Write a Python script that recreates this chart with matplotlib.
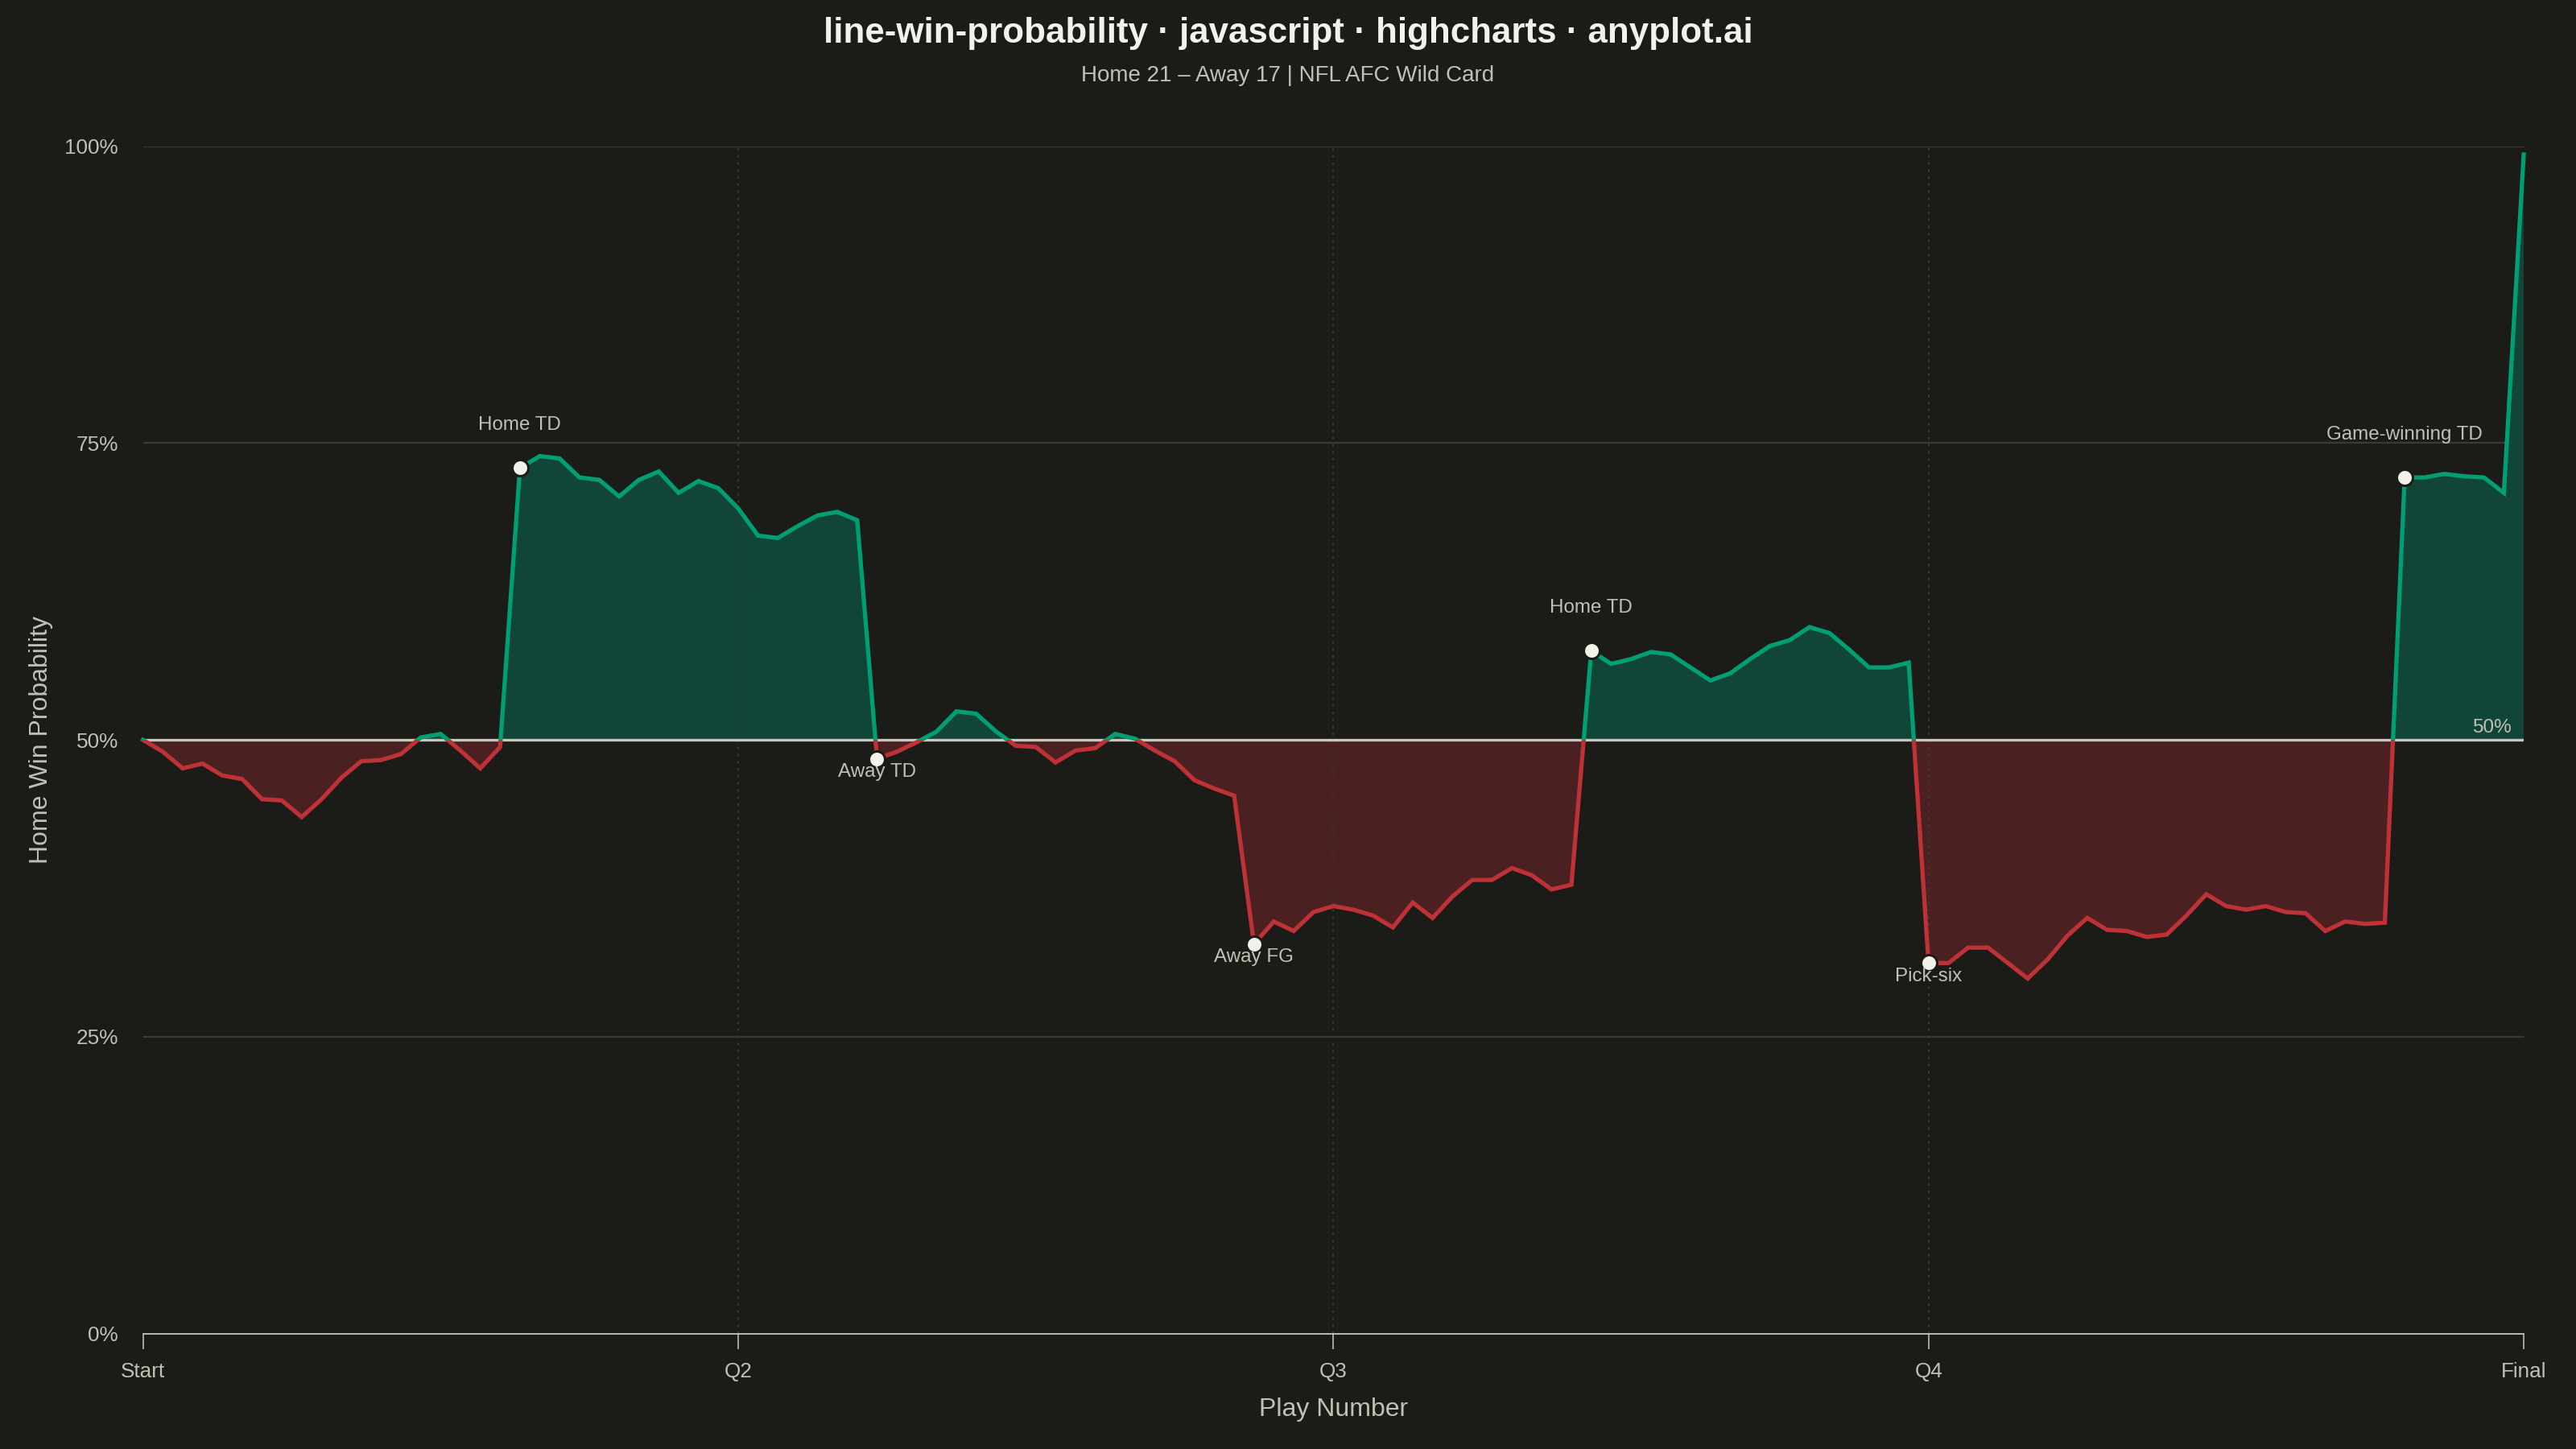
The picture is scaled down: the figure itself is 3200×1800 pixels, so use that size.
# -*- coding: utf-8 -*-
"""
Win probability line for a single game, home vs away, split at 50%
"""

# %% Setup

import numpy as np
import matplotlib
matplotlib.use('Agg')
import matplotlib.pyplot as plt
from matplotlib.patches import Rectangle

plt.rcParams['font.family'] = ['Liberation Sans', 'DejaVu Sans']

# %% Data

plays = np.arange(121)
home_wp = [50.0, 49.0, 47.6, 48.0, 47.0, 46.7, 45.0, 44.9, 43.5, 45.0,
           46.8, 48.2, 48.3, 48.8, 50.2, 50.5, 49.1, 47.6, 49.4, 72.9,
           73.9, 73.7, 72.1, 71.9, 70.5, 71.9, 72.6, 70.8, 71.8, 71.2,
           69.5, 67.2, 67.0, 68.0, 68.9, 69.2, 68.5, 48.4, 49.0, 49.8,
           50.7, 52.4, 52.2, 50.7, 49.5, 49.4, 48.1, 49.1, 49.3, 50.5,
           50.1, 49.1, 48.2, 46.6, 45.9, 45.3, 32.8, 34.7, 33.9, 35.5,
           36.0, 35.7, 35.2, 34.2, 36.3, 35.0, 36.8, 38.2, 38.2, 39.2,
           38.6, 37.4, 37.8, 57.5, 56.4, 56.8, 57.4, 57.2, 56.1, 55.0,
           55.6, 56.8, 57.9, 58.4, 59.5, 59.0, 57.6, 56.1, 56.1, 56.5,
           31.2, 31.2, 32.5, 32.5, 31.2, 29.9, 31.5, 33.5, 35.0, 34.0,
           33.9, 33.4, 33.6, 35.2, 37.0, 36.0, 35.7, 36.0, 35.5, 35.4,
           33.9, 34.7, 34.5, 34.6, 72.1, 72.1, 72.4, 72.2, 72.1, 70.8,
           99.3]

event_plays = [19, 37, 56, 73, 90, 114]
event_labels = ['Home TD', 'Away TD', 'Away FG', 'Home TD', 'Pick-six', 'Game-winning TD']
event_above = [True, False, False, True, False, True]

quarter_ticks = [0, 30, 60, 90, 120]
quarter_labels = ['Start', 'Q2', 'Q3', 'Q4', 'Final']
y_ticks = [0, 25, 50, 75, 100]

title = 'line-win-probability · javascript · highcharts · anyplot.ai'
subtitle = 'Home 21 – Away 17 | NFL AFC Wild Card'

# %% Colours

bg = '#1b1b17'
txt = '#c2bfb5'
grid_c = '#3a3a34'
home_c = '#009e73'
away_c = '#be3136'
home_fill = '#104538'
away_fill = '#4a2020'

# %% Plot

wp = np.array(home_wp)
fig = plt.figure(figsize=(16, 9), dpi=200, facecolor=bg)
ax = fig.add_axes([0.0555, 0.0797, 0.9242, 0.8194])
ax.set_facecolor(bg)

#Filled areas between the curve and the 50% threshold
ax.fill_between(plays, wp, 50, where=wp >= 50, interpolate=True,
                color=home_fill, lw=0, zorder=1)
ax.fill_between(plays, wp, 50, where=wp <= 50, interpolate=True,
                color=away_fill, lw=0, zorder=1)

#Same line twice, clipped above / below the threshold
for colour, y0 in [(home_c, 50), (away_c, -10)]:
    ln, = ax.plot(plays, wp, color=colour, lw=1.9, zorder=4,
                  solid_joinstyle='miter')
    clip = Rectangle((-10, y0), 140, 60, transform=ax.transData)
    ln.set_clip_path(clip)

#Grid: solid horizontal, dotted vertical at quarter breaks
for yv in [25, 75, 100]:
    ax.axhline(yv, color=grid_c, lw=0.8, zorder=0.5)
for xv in quarter_ticks[1:-1]:
    ax.axvline(xv, color=grid_c, lw=0.7, ls=(0, (1.5, 3)), zorder=2)

ax.axhline(50, color='#c9c6bd', lw=1.2, zorder=3)
ax.annotate('50%', (119.4, 50), xytext=(0, 1.5), textcoords='offset points',
            color=txt, fontsize=8.8, ha='right', va='bottom', zorder=5)

#Key plays
ax.plot(event_plays, wp[event_plays], ls='none', marker='o', ms=7.2,
        mfc='#f2f1ea', mec=bg, mew=1.1, zorder=6)
for p, lab, up in zip(event_plays, event_labels, event_above):
    if up:
        ax.annotate(lab, (p, wp[p]), xytext=(0, 17), textcoords='offset points',
                    ha='center', va='baseline', color=txt, fontsize=8.7, zorder=7)
    else:
        ax.annotate(lab, (p, wp[p]), xytext=(0, -2), textcoords='offset points',
                    ha='center', va='top', color=txt, fontsize=8.7, zorder=7)

ax.set_xlim(0, 120)
ax.set_ylim(0, 100)
ax.set_xticks(quarter_ticks)
ax.set_xticklabels(quarter_labels)
ax.set_yticks(y_ticks)
ax.set_yticklabels([f'{v}%' for v in y_ticks])
ax.tick_params(axis='x', colors='#bdbab0', labelcolor=txt, labelsize=9.4,
               length=6.8, width=0.6, pad=6)
ax.tick_params(axis='y', length=0, labelcolor=txt, labelsize=9.4, pad=11)

for side in ['top', 'right', 'left']:
    ax.spines[side].set_visible(False)
ax.spines['bottom'].set_color('#bdbab0')
ax.spines['bottom'].set_linewidth(0.7)
ax.spines['bottom'].set_zorder(5)

ax.set_xlabel('Play Number', color=txt, fontsize=11.5, labelpad=7)
fig.text(0.016, ax.get_position().y0 + ax.get_position().height / 2,
         'Home Win Probability', rotation=90, color=txt, fontsize=11.5,
         ha='center', va='center')

fig.text(0.5, 0.977, title, color='#f2f1ea', fontsize=15.8, fontweight='bold',
         ha='center', va='center')
fig.text(0.5, 0.948, subtitle, color=txt, fontsize=10, ha='center', va='center')

fig.savefig('out.png', dpi=200, facecolor=bg)
